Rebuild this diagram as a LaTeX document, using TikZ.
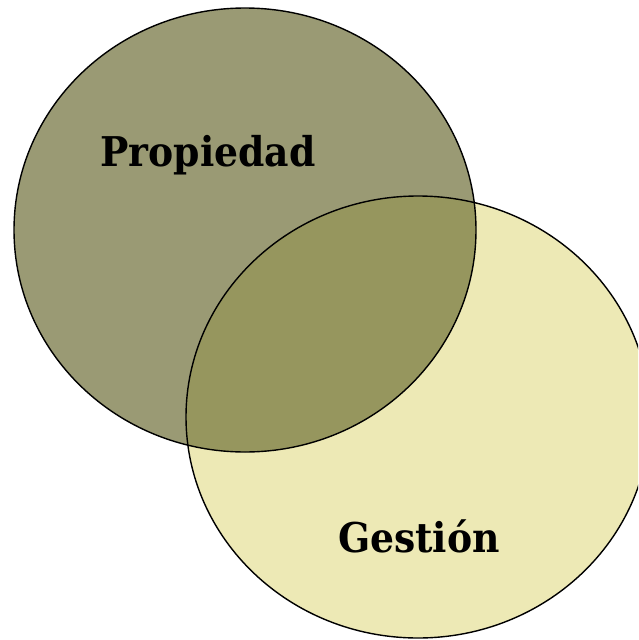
\documentclass[tikz,border=0pt]{standalone}
\usepackage{fontspec}
\newfontfamily\lblfont{DejaVu Serif}
\definecolor{leftfill}{RGB}{154,154,116}
\definecolor{overlapfill}{RGB}{150,150,94}
\definecolor{rightfill}{RGB}{237,233,181}
\tikzset{
  outline/.style={draw=black, line width=1.4pt},
  lbl/.style={font=\lblfont\bfseries\fontsize{41}{46}\selectfont, text=black, inner sep=0pt, anchor=base}
}
\begin{document}
\begin{tikzpicture}[x=1pt,y=-1pt]
\useasboundingbox (0,0) rectangle (638,640);
\clip (0,0) rectangle (638,640);
% right ellipse
\fill[rightfill] (418,417) ellipse [x radius=232pt, y radius=221pt];
% left ellipse
\fill[leftfill] (245,230) ellipse [x radius=231pt, y radius=222pt];
% overlap
\begin{scope}
  \clip (418,417) ellipse [x radius=232pt, y radius=221pt];
  \fill[overlapfill] (245,230) ellipse [x radius=231pt, y radius=222pt];
\end{scope}
\draw[outline] (418,417) ellipse [x radius=232pt, y radius=221pt];
\draw[outline] (245,230) ellipse [x radius=231pt, y radius=222pt];
\node[lbl] (prop) at (208,166) {\scalebox{0.92}[1]{Propiedad}};
\node[lbl] (gest) at (419,552) {\scalebox{0.92}[1]{Gestión}};
\end{tikzpicture}
\end{document}
